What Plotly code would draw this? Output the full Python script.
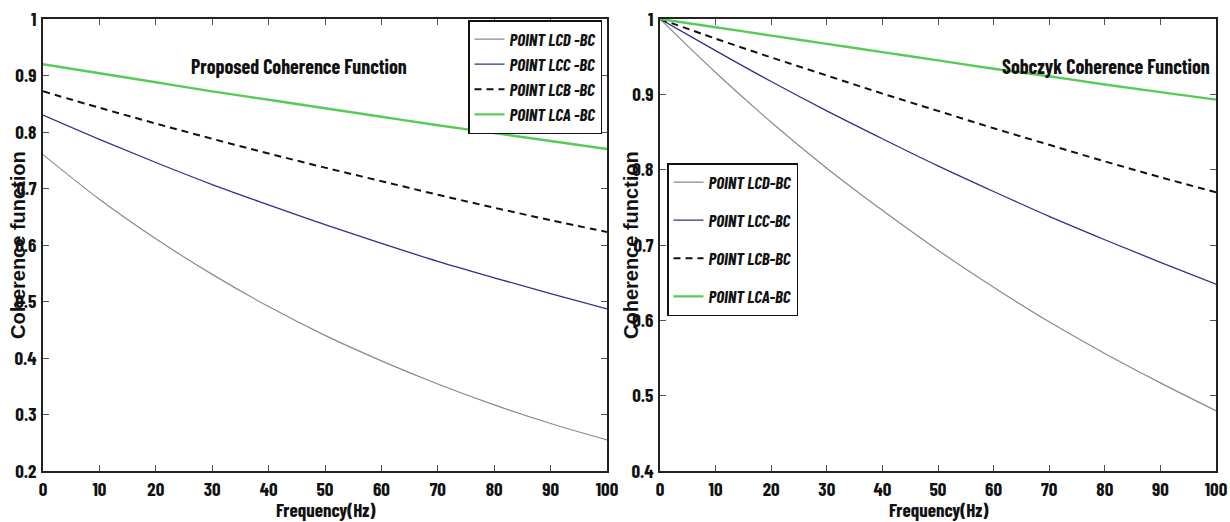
import plotly.graph_objects as go

# Frequency grid (Hz)
freq = [0, 10, 20, 30, 40, 50, 60, 70, 80, 90, 100]

# Proposed coherence function, one series per point pair
prop_lcd = [0.760, 0.681, 0.611, 0.548, 0.491, 0.440, 0.395, 0.354, 0.317, 0.284, 0.255]
prop_lcc = [0.830, 0.787, 0.746, 0.707, 0.671, 0.636, 0.603, 0.571, 0.542, 0.514, 0.487]
prop_lcb = [0.872, 0.843, 0.815, 0.788, 0.762, 0.737, 0.713, 0.689, 0.666, 0.644, 0.623]
prop_lca = [0.920, 0.904, 0.888, 0.872, 0.857, 0.842, 0.827, 0.812, 0.798, 0.784, 0.770]

# Sobczyk coherence function
sob_lcd = [1.000, 0.929, 0.863, 0.802, 0.746, 0.693, 0.644, 0.598, 0.556, 0.517, 0.480]
sob_lcc = [1.000, 0.958, 0.917, 0.878, 0.841, 0.805, 0.771, 0.738, 0.707, 0.677, 0.648]
sob_lcb = [1.000, 0.974, 0.949, 0.925, 0.901, 0.878, 0.855, 0.833, 0.811, 0.790, 0.770]
sob_lca = [1.000, 0.989, 0.978, 0.967, 0.956, 0.945, 0.934, 0.924, 0.913, 0.903, 0.893]

prop_names = ["POINT LCD -BC", "POINT LCC -BC", "POINT LCB -BC", "POINT LCA -BC"]
sob_names = ["POINT LCD-BC", "POINT LCC-BC", "POINT LCB-BC", "POINT LCA-BC"]

NARROW = "Barlow Condensed, Archivo Narrow, Liberation Sans, Arial"
WIDE = "Liberation Sans, Arial, Helvetica"
INK = "#111111"

styles = [
    dict(color="#8a8a8a", width=1.2, dash="solid"),
    dict(color="#30308c", width=1.3, dash="solid"),
    dict(color="#111111", width=2.0, dash="7px,5px"),
    dict(color="#55cc55", width=2.4, dash="solid"),
]

fig = go.Figure()

for name, ys, st in zip(prop_names, [prop_lcd, prop_lcc, prop_lcb, prop_lca], styles):
    fig.add_trace(go.Scatter(x=freq, y=ys, mode="lines", name=name,
                             line=dict(shape="spline", **st),
                             xaxis="x", yaxis="y", legend="legend"))

for i, (name, ys, st) in enumerate(zip(sob_names, [sob_lcd, sob_lcc, sob_lcb, sob_lca], styles)):
    fig.add_trace(go.Scatter(x=freq, y=ys, mode="lines", name=name,
                             line=dict(shape="spline", **st),
                             legendgroup=f"s{i}",
                             xaxis="x2", yaxis="y2", legend="legend2"))

W, H = 1230, 522
left_px = (43, 607)
right_px = (660, 1216)
top_px, bot_px = 19, 471
ydom = [1 - bot_px / H, 1 - top_px / H]
ymid = (ydom[0] + ydom[1]) / 2

tick_font = dict(family=NARROW, size=19, color=INK, weight="bold")

def xa(px, anchor):
    return dict(domain=[px[0] / W, px[1] / W], range=[0, 100], dtick=10, tick0=0,
                anchor=anchor, automargin=False, ticklabeloverflow="allow",
                showline=True, linecolor="#222222", linewidth=1.5, mirror="allticks",
                ticks="inside", ticklen=6, tickcolor="#555555", showgrid=False,
                zeroline=False, tickfont=tick_font, ticklabelstandoff=0)

def ya(rng, anchor):
    return dict(domain=ydom, range=rng, dtick=0.1, tick0=0, anchor=anchor,
                automargin=False, ticklabeloverflow="allow",
                showline=True, linecolor="#222222", linewidth=1.5, mirror="allticks",
                ticks="inside", ticklen=6, tickcolor="#555555", showgrid=False,
                zeroline=False, tickfont=tick_font, ticklabelstandoff=1)

legend_font = dict(family=NARROW, size=17, color=INK, weight="bold", style="italic")
label_font = dict(family=NARROW, size=20, color=INK, weight="bold")
xlabel_font = dict(family=NARROW, size=19, color=INK, weight="bold")
ylabel_font = dict(family=WIDE, size=20, color=INK, weight="bold")


def note(text, x, y, font, **kw):
    return dict(text=text, x=x, y=y, xref="paper", yref="paper", showarrow=False,
                xanchor="center", font=font, **kw)


fig.update_layout(
    width=W, height=H,
    margin=dict(l=0, r=0, t=0, b=0),
    paper_bgcolor="white", plot_bgcolor="white",
    showlegend=True,
    xaxis=xa(left_px, "y"),
    yaxis=ya([0.2, 1.0], "x"),
    xaxis2=xa(right_px, "y2"),
    yaxis2=ya([0.4, 1.0], "x2"),
    legend=dict(x=602 / W, y=1 - 20 / H, xanchor="right", yanchor="top",
                bgcolor="white", bordercolor=INK, borderwidth=1.5,
                font=legend_font, itemwidth=30, tracegroupgap=0),
    legend2=dict(x=667 / W, y=1 - 163 / H, xanchor="left", yanchor="top",
                 bgcolor="white", bordercolor=INK, borderwidth=1.5,
                 font=legend_font, itemwidth=30, tracegroupgap=13),
    annotations=[
        note("Proposed Coherence Function", 299 / W, 1 - 52 / H, label_font),
        note("Sobczyk Coherence Function", 1106 / W, 1 - 52 / H, label_font),
        note("Frequency(Hz)", (left_px[0] + left_px[1]) / 2 / W, 0, xlabel_font,
             yanchor="bottom", borderpad=0),
        note("Frequency(Hz)", (right_px[0] + right_px[1]) / 2 / W, 0, xlabel_font,
             yanchor="bottom", borderpad=0),
        note("Coherence function", 18 / W, ymid, ylabel_font, textangle=-90),
        note("Coherence function", 631 / W, ymid, ylabel_font, textangle=-90),
    ],
)

fig.write_html("out.html")
